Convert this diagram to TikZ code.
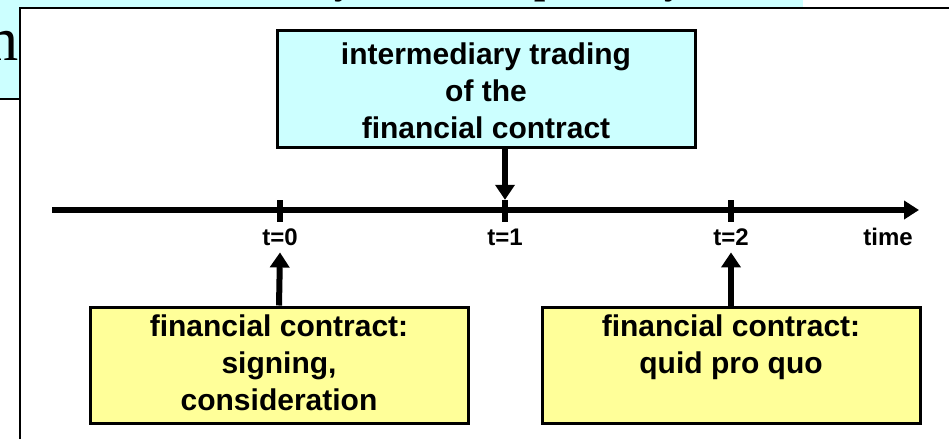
\documentclass[tikz,border=0pt]{standalone}
\usepackage{fontspec}
\setmainfont{Liberation Serif}
\setsansfont{Liberation Sans}
\usetikzlibrary{arrows.meta}

\definecolor{paleCyan}{HTML}{CCFFFF}
\definecolor{paleYellow}{HTML}{FFFF99}

\tikzset{
  box/.style={draw=black, line width=3pt, rectangle, inner sep=0pt},
  boxtext/.style={font=\sffamily\bfseries\fontsize{30}{37}\selectfont, align=center, inner sep=0pt},
  ticklabel/.style={font=\sffamily\bfseries\fontsize{24}{28}\selectfont, inner sep=0pt, anchor=base},
  tickmark/.style={fill=black, minimum width=6pt, minimum height=22pt, inner sep=0pt},
  arr/.style={line width=6pt, -{Triangle[length=15pt,width=19pt]}},
  axisline/.style={line width=6pt, -{Triangle[length=15pt,width=18pt]}},
}

\begin{document}
\begin{tikzpicture}[x=1pt,y=-1pt]
  \useasboundingbox (0,0) rectangle (949,439);

  % title banner lying behind the panel
  \fill[paleCyan] (0,0) rectangle (803,99);
  \begin{scope}
    \clip (0,0) rectangle (803,99);
    \node[font=\fontsize{62}{70}\selectfont, anchor=base east, inner sep=0pt] (titleM) at (19,60) {m};
    \node[font=\bfseries\fontsize{40}{48}\selectfont, anchor=base, inner sep=0pt] (titleY1) at (344,-6) {y};
    \node[font=\bfseries\fontsize{40}{48}\selectfont, anchor=base, inner sep=0pt] (titleP) at (546,-6) {p};
    \node[font=\bfseries\fontsize{40}{48}\selectfont, anchor=base, inner sep=0pt] (titleY2) at (674,-6) {y};
  \end{scope}
  \draw[line width=1.5pt] (0,99) -- (20,99);

  % white panel
  \fill[white] (20,8) rectangle (949,439);
  \draw[line width=2pt] (20,439) -- (20,8) -- (949,8);

  % boxes
  \node[box, fill=paleCyan, minimum width=418pt, minimum height=117pt] (tbox) at (486,88.5) {};
  \node[boxtext, anchor=north] (ttext) at (486,43) {intermediary trading\\of the\\financial contract};

  \node[box, fill=paleYellow, minimum width=378pt, minimum height=116pt] (lbox) at (279,365) {};
  \node[boxtext, anchor=north] (ltext) at (279,315) {financial contract:\\signing,\\consideration};

  \node[box, fill=paleYellow, minimum width=378pt, minimum height=116pt] (rbox) at (731,365) {};
  \node[boxtext, anchor=north] (rtext) at (731,315) {financial contract:\\quid pro quo};

  % time axis
  \coordinate (axstart) at (52,210);
  \coordinate (axend) at (919,210);
  \draw[axisline] (axstart) -- (axend);

  \node[tickmark] (t0) at (280,211) {};
  \node[tickmark] (t1) at (505,211) {};
  \node[tickmark] (t2) at (731,211) {};

  \node[ticklabel] (l0) at (280,245) {t=0};
  \node[ticklabel] (l1) at (505,245) {t=1};
  \node[ticklabel] (l2) at (731,245) {t=2};
  \node[ticklabel] (ltime) at (888,245) {time};

  % connectors
  \draw[arr] (tbox.south -| t1) -- (t1.north);
  \draw[arr] (lbox.north) -- ([yshift=-7pt]l0.south);
  \draw[arr] (rbox.north) -- ([yshift=-7pt]l2.south);
\end{tikzpicture}
\end{document}
